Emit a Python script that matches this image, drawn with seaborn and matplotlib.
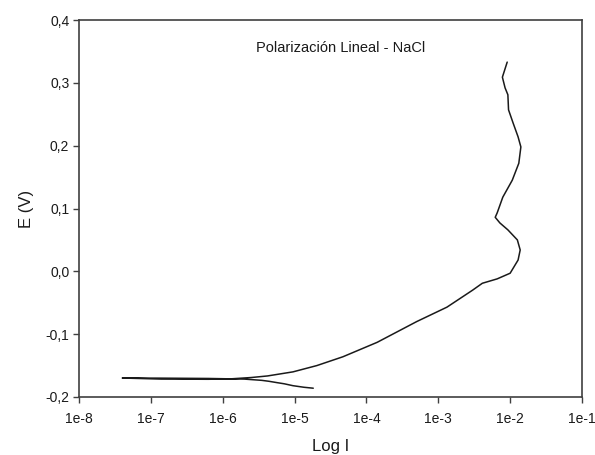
import matplotlib
matplotlib.use("Agg")
import matplotlib.pyplot as plt
import seaborn as sns
import pandas as pd
from matplotlib.ticker import FixedLocator, NullLocator

# Data (current in A, potential in V), in path order
current = [1.82e-5, 1.35e-5, 9.5e-6, 7.2e-6, 5.6e-6, 4.4e-6, 3.5e-6, 2.0e-6, 6.3e-7, 1.4e-7, 4.0e-8,
           1.4e-7, 6.3e-7, 1.26e-6, 2.5e-6, 4.2e-6, 9.5e-6, 2.04e-5, 4.7e-5, 1.41e-4, 5.0e-4,
           1.32e-3, 3.0e-3, 4.1e-3, 6.6e-3, 1.0e-2, 1.29e-2, 1.38e-2, 1.26e-2, 9.3e-3, 7.2e-3,
           6.2e-3, 6.6e-3, 7.9e-3, 1.07e-2, 1.32e-2, 1.41e-2, 1.29e-2, 1.10e-2, 9.5e-3, 9.3e-3,
           8.5e-3, 7.8e-3, 9.1e-3]
potential = [-0.186, -0.1845, -0.182, -0.179, -0.177, -0.175, -0.1735, -0.1715, -0.1705, -0.1700, -0.1698,
             -0.1715, -0.1718, -0.1712, -0.169, -0.1665, -0.160, -0.150, -0.136, -0.113, -0.080,
             -0.057, -0.030, -0.019, -0.012, -0.003, 0.018, 0.034, 0.050, 0.066, 0.077,
             0.086, 0.093, 0.118, 0.145, 0.172, 0.198, 0.214, 0.236, 0.257, 0.281,
             0.292, 0.309, 0.333]

x_ticks = [1e-8, 1e-7, 1e-6, 1e-5, 1e-4, 1e-3, 1e-2, 1e-1]
x_tick_labels = ["1e-8", "1e-7", "1e-6", "1e-5", "1e-4", "1e-3", "1e-2", "1e-1"]
y_ticks = [-0.2, -0.1, 0.0, 0.1, 0.2, 0.3, 0.4]
y_tick_labels = ["-0,2", "-0,1", "0,0", "0,1", "0,2", "0,3", "0,4"]

title = "Polarización Lineal - NaCl"
x_label = "Log I"
y_label = "E (V)"

sns.set_style("white")
plt.rcParams["font.family"] = ["Liberation Sans", "DejaVu Sans"]

df = pd.DataFrame({"I": current, "E": potential})

fig = plt.figure(figsize=(5.95, 4.55), dpi=100)
ax = fig.add_axes([79 / 595, 1 - 397 / 455, 503 / 595, 377 / 455])

sns.lineplot(data=df, x="I", y="E", sort=False, estimator=None, ax=ax,
             color="#1a1a1a", linewidth=1.1)

ax.set_xscale("log")
ax.set_xlim(1e-8, 1e-1)
ax.set_ylim(-0.2, 0.4)
ax.xaxis.set_major_locator(FixedLocator(x_ticks))
ax.xaxis.set_minor_locator(NullLocator())
ax.set_xticklabels(x_tick_labels)
ax.set_yticks(y_ticks)
ax.set_yticklabels(y_tick_labels)

for s in ax.spines.values():
    s.set_color("#404040")
    s.set_linewidth(1.2)

ax.tick_params(axis="both", which="major", direction="out", length=4, width=1,
               color="#404040", labelsize=10, labelcolor="#1a1a1a",
               bottom=True, left=True, top=False, right=False)
ax.tick_params(axis="x", pad=7)
ax.tick_params(axis="y", pad=3)

ax.set_xlabel(x_label, fontsize=12, color="#1a1a1a", labelpad=9)
ax.set_ylabel(y_label, fontsize=12, color="#1a1a1a", labelpad=8)

ax.text(0.521, 0.926, title, transform=ax.transAxes, ha="center", va="center",
        fontsize=10.5, color="#1a1a1a")

fig.savefig("out.png", dpi=100)
